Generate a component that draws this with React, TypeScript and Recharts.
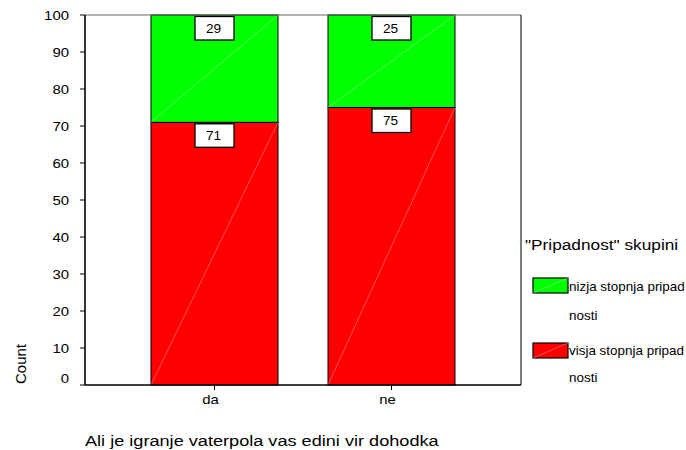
import { Bar, BarChart, LabelList, XAxis, YAxis } from "recharts";

const categories = ["da", "ne"];
const visjaValues = [71, 75];
const nizjaValues = [29, 25];
const yTicks = [0, 10, 20, 30, 40, 50, 60, 70, 80, 90, 100];

const chartData = categories.map((cat, i) => ({
    cat,
    visja: visjaValues[i],
    nizja: nizjaValues[i],
}));

const FONT = '"Liberation Sans", Arial, sans-serif';
const SX = 1.15;

// stretched text, the source image is a bit wider than tall
function WideText({ x, y, children, anchor = "start", size = 13, sx = SX }: any) {
    return (
        <text
            transform={`translate(${x},${y}) scale(${sx},1)`}
            textAnchor={anchor}
            fontFamily={FONT}
            fontSize={size}
            fill="#000"
        >
            {children}
        </text>
    );
}

const YTick = (props: any) => {
    const { x, y, payload } = props;
    const shift = payload.value === 0 ? -2 : 5;
    return <WideText x={x} y={y + shift} anchor="end">{payload.value}</WideText>;
};

const XTick = (props: any) => {
    const { x, y, payload } = props;
    return <WideText x={x - 4} y={y + 12} anchor="middle">{payload.value}</WideText>;
};

const SegmentShape = (props: any) => {
    const { x, y, width, height, fill } = props;
    return (
        <g>
            <rect x={x} y={y} width={width} height={height} fill={fill} stroke="#000" strokeWidth={1} />
            <line
                x1={x}
                y1={y + height}
                x2={x + width}
                y2={y}
                stroke="#fff"
                strokeOpacity={0.4}
                strokeWidth={0.8}
            />
        </g>
    );
};

const BoxLabel = (props: any) => {
    const { x, y, width, value } = props;
    const cx = x + width / 2;
    return (
        <g>
            <rect x={cx - 19.5} y={y + 1.5} width={39} height={23.5} fill="#fff" stroke="#000" strokeWidth={1.3} />
            <WideText x={cx - 1} y={y + 17.5} anchor="middle" sx={1.05}>{value}</WideText>
        </g>
    );
};

const Swatch = ({ x, y, fill }: any) => (
    <g>
        <rect x={x} y={y} width={35} height={15} fill={fill} stroke="#000" strokeWidth={1.2} />
        <line x1={x} y1={y + 15} x2={x + 35} y2={y} stroke="#fff" strokeOpacity={0.4} strokeWidth={0.8} />
    </g>
);

export default function App() {
    return (
        <div style={{ position: "absolute", left: 0, top: 0, width: 686, height: 450, background: "#fff" }}>
            <BarChart
                width={686}
                height={450}
                data={chartData}
                margin={{ top: 14, right: 164, bottom: 35, left: 25 }}
            >
                <XAxis
                    dataKey="cat"
                    padding={{ left: 41, right: 41 }}
                    height={30}
                    tickSize={5}
                    tickLine={{ stroke: "#000" }}
                    axisLine={{ stroke: "#000", strokeWidth: 1.6 }}
                    tick={<XTick />}
                />
                <XAxis
                    xAxisId="top"
                    orientation="top"
                    dataKey="cat"
                    height={1}
                    tick={false}
                    tickLine={false}
                    axisLine={{ stroke: "#666", strokeWidth: 1.2 }}
                />
                <YAxis
                    domain={[0, 100]}
                    ticks={yTicks}
                    width={60}
                    tickSize={5}
                    tickMargin={11}
                    tickLine={{ stroke: "#000" }}
                    axisLine={{ stroke: "#000", strokeWidth: 1.6 }}
                    tick={<YTick />}
                    interval={0}
                />
                <YAxis
                    yAxisId="right"
                    orientation="right"
                    width={1}
                    tick={false}
                    tickLine={false}
                    axisLine={{ stroke: "#222", strokeWidth: 1.2 }}
                />
                <Bar dataKey="visja" stackId="a" fill="#ff0000" barSize={127} shape={<SegmentShape />} isAnimationActive={false}>
                    <LabelList dataKey="visja" content={<BoxLabel />} />
                </Bar>
                <Bar dataKey="nizja" stackId="a" fill="#00ff00" barSize={127} shape={<SegmentShape />} isAnimationActive={false}>
                    <LabelList dataKey="nizja" content={<BoxLabel />} />
                </Bar>
            </BarChart>
            <svg
                width={686}
                height={450}
                style={{ position: "absolute", left: 0, top: 0, pointerEvents: "none" }}
            >
                <text
                    x={26}
                    y={364}
                    transform="rotate(-90, 26, 364)"
                    textAnchor="middle"
                    fontFamily={FONT}
                    fontSize={15}
                >
                    Count
                </text>
                <WideText x={85} y={446} size={15.5} sx={1.17}>Ali je igranje vaterpola vas edini vir dohodka</WideText>
                <WideText x={525} y={250} size={15}>"Pripadnost" skupini</WideText>
                <Swatch x={533} y={278} fill="#00ff00" />
                <WideText x={569} y={291} size={12} sx={1.12}>nizja stopnja pripad</WideText>
                <WideText x={569} y={320} size={12} sx={1.12}>nosti</WideText>
                <Swatch x={533} y={343} fill="#ff0000" />
                <WideText x={569} y={355} size={12} sx={1.12}>visja stopnja pripad</WideText>
                <WideText x={569} y={382} size={12} sx={1.12}>nosti</WideText>
            </svg>
        </div>
    );
}
